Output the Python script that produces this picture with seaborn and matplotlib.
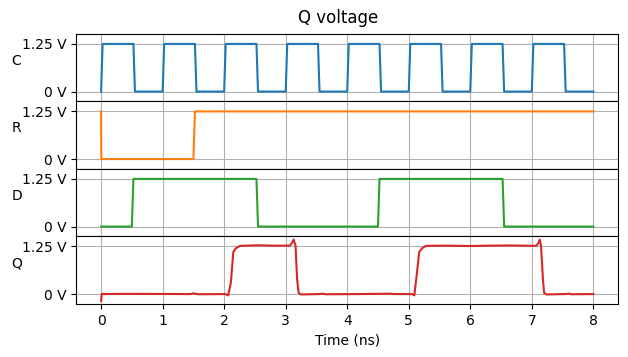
import pandas as pd
import matplotlib
matplotlib.use("Agg")
import matplotlib.pyplot as plt
import seaborn as sns

# Clock: 1 ns period, short rise/fall edges
c_t = [0.0, 0.025, 0.525, 0.55,
       1.0, 1.025, 1.525, 1.55,
       2.0, 2.025, 2.525, 2.55,
       3.0, 3.025, 3.525, 3.55,
       4.0, 4.025, 4.525, 4.55,
       5.0, 5.025, 5.525, 5.55,
       6.0, 6.025, 6.525, 6.55,
       7.0, 7.025, 7.525, 7.55, 8.0]
c_v = [0.0, 1.25, 1.25, 0.0] * 8 + [0.0]

# Reset
r_t = [0.0, 0.003, 1.5, 1.525, 8.0]
r_v = [1.25, 0.0, 0.0, 1.25, 1.25]

# Data input
d_t = [0.0, 0.5, 0.525, 2.525, 2.55, 4.5, 4.525, 6.525, 6.55, 8.0]
d_v = [0.0, 0.0, 1.25, 1.25, 0.0, 0.0, 1.25, 1.25, 0.0, 0.0]

# Simulated output Q
q_t = [0.0, 0.01, 0.4, 1.45, 1.5, 1.55, 1.6, 2.02, 2.066, 2.11, 2.148, 2.19,
       2.257, 2.55, 2.8, 3.066, 3.1, 3.13, 3.16, 3.185, 3.21, 3.25, 3.55,
       3.6, 3.65, 4.2, 4.7, 4.75, 5.05, 5.09, 5.135, 5.17, 5.215, 5.28,
       5.6, 5.99, 6.3, 6.64, 7.07, 7.105, 7.13, 7.15, 7.18, 7.2, 7.24,
       7.55, 7.6, 7.65, 8.0]
q_v = [-0.18, 0.0, 0.005, 0.0, 0.02, 0.0, -0.005, 0.0, -0.035, 0.31, 1.10, 1.20,
       1.265, 1.28, 1.27, 1.27, 1.335, 1.43, 1.27, 0.40, 0.03, -0.01, 0.0,
       0.01, -0.005, 0.0, 0.01, 0.0, 0.0, -0.035, 0.58, 1.10, 1.20, 1.265,
       1.27, 1.26, 1.27, 1.275, 1.265, 1.33, 1.43, 1.265, 0.40, 0.03, -0.01,
       0.0, 0.01, -0.005, 0.0]

signals = [("C", c_t, c_v), ("R", r_t, r_v), ("D", d_t, d_v), ("Q", q_t, q_v)]
ytick_vals = [0, 1.25]
ytick_labels = ["0 V", "1.25 V"]
xtick_vals = [0, 1, 2, 3, 4, 5, 6, 7, 8]

fig, axes = plt.subplots(4, 1, sharex=True, sharey=True, figsize=(6.28, 3.57), dpi=100)
fig.subplots_adjust(left=0.1218, right=0.984, top=0.9048, bottom=0.1485, hspace=0)

palette = sns.color_palette("tab10")
for i, (ax, (name, t, v)) in enumerate(zip(axes, signals)):
    df = pd.DataFrame({"t": t, "v": v})
    sns.lineplot(data=df, x="t", y="v", ax=ax, color=palette[i],
                 estimator=None, sort=False, linewidth=1.5)
    ax.set_ylabel(name, rotation=0)
    ax.set_yticks(ytick_vals, ytick_labels)
    ax.set_xticks(xtick_vals)
    ax.grid(True)
    ax.set_xlabel("")

axes[-1].set_xlabel("Time (ns)")
fig.suptitle("Q voltage", x=0.539, y=0.975, va="top", fontsize=12)

fig.savefig("out.png", dpi=100)
